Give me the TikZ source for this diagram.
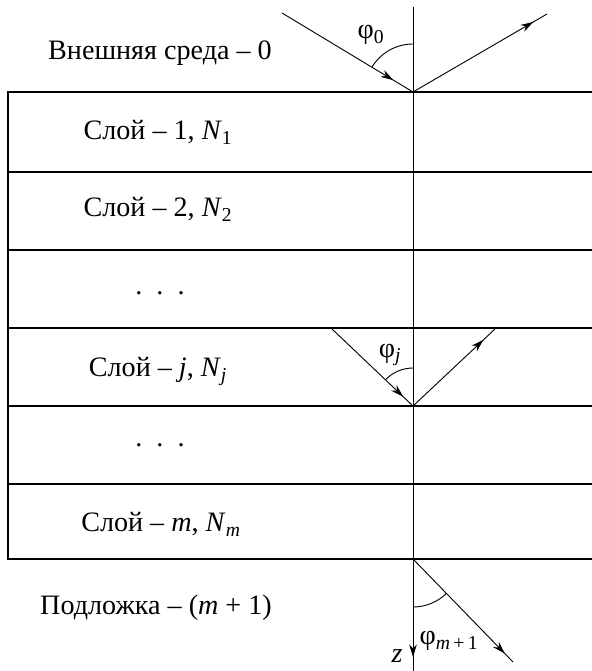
\documentclass[tikz,border=0pt]{standalone}
\usepackage{fontspec}
\setmainfont{Liberation Serif}
\usetikzlibrary{arrows.meta, decorations.markings}
\tikzset{
  layerline/.style={line width=1.1pt},
  ray/.style={line width=0.65pt},
  arrowat/.style={postaction={decorate},
    decoration={markings, mark=at position #1 with {\arrow{Stealth[length=9pt,width=5.5pt]}}}},
  labeltext/.style={font=\fontsize{20}{24}\selectfont, inner sep=0pt}
}
\tikzset{
  layertext/.style={labeltext, anchor=base}
}

\begin{document}
\begin{tikzpicture}[x=0.025cm, y=0.025cm]
  \useasboundingbox (0,0) rectangle (592,671);
  % layers of the stack
  \draw[layerline] (592,579) -| (8,112) -- (592,112);
  \foreach \y in {499,421,343,265,187}
    \draw[layerline] (8,\y) -- (592,\y);
  % points on the normal
  \coordinate (o0) at (413,579);
  \coordinate (oj) at (413,265);
  \coordinate (om) at (413,112);
  \coordinate (ztop) at (413,664);
  \coordinate (zbot) at (413,0);
  \coordinate (in0) at (282,658);
  \coordinate (out0) at (547,657);
  \coordinate (inj) at (332,342);
  \coordinate (outj) at (495,342);
  \coordinate (tr) at (513,9);
  % normal and z axis
  \draw[ray, arrowat=0.979] (ztop) -- (zbot);
  \node[labeltext, anchor=base] (zlabel) at (397,8) {\textit{z}};
  % rays
  \draw[ray, arrowat=0.85] (in0) -- (o0);
  \draw[ray, arrowat=0.9] (o0) -- (out0);
  \draw[ray, arrowat=0.88] (inj) -- (oj);
  \draw[ray, arrowat=0.86] (oj) -- (outj);
  \draw[ray, arrowat=0.92] (om) -- (tr);
  % angles
  \draw[ray] (o0) ++(90:48) arc[start angle=90, end angle=149, radius=48];
  \draw[ray] (oj) ++(90:38) arc[start angle=90, end angle=136, radius=38];
  \draw[ray] (om) ++(270:48) arc[start angle=270, end angle=314, radius=48];
  \node[labeltext] (phi0) at (371,636) {φ\textsubscript{0}};
  \node[labeltext] (phij) at (390,316) {φ\textsubscript{\textit{j}}};
  \node[labeltext] (phim) at (449,30) {φ\textsubscript{\textit{m}\,+\,1}};
  % layer names
  \node[layertext] (outer) at (160,611) {Внешняя среда – 0};
  \node[layertext] (layer1) at (158,531) {Слой – 1, \textit{N}\textsubscript{1}};
  \node[layertext] (layer2) at (158,454) {Слой – 2, \textit{N}\textsubscript{2}};
  \node[layertext] (dots1) at (160,376) {.\ \ .\ \ .};
  \node[layertext] (layerj) at (158,294) {Слой – \textit{j}, \textit{N}\textsubscript{\textit{j}}};
  \node[layertext] (dots2) at (160,224) {.\ \ .\ \ .};
  \node[layertext] (layerm) at (161,139) {Слой – \textit{m}, \textit{N}\textsubscript{\textit{m}}};
  \node[layertext] (subst) at (156,56) {Подложка – (\textit{m} + 1)};
\end{tikzpicture}
\end{document}
